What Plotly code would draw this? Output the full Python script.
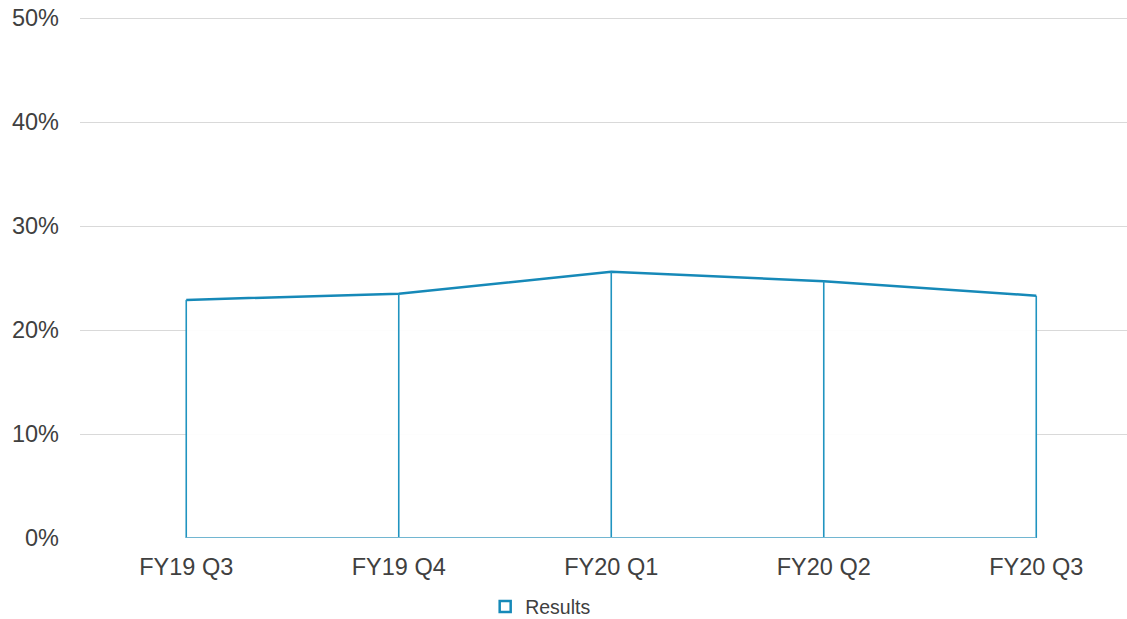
import plotly.graph_objects as go

quarters = ['FY19 Q3', 'FY19 Q4', 'FY20 Q1', 'FY20 Q2', 'FY20 Q3']
results = [0.229, 0.235, 0.256, 0.247, 0.233]
y_ticks = [0, 0.1, 0.2, 0.3, 0.4, 0.5]

blue = '#1689b8'

fig = go.Figure()

# area with white fill, outline on top
fig.add_trace(go.Scatter(
    x=quarters,
    y=results,
    mode='lines',
    name='Results',
    fill='tozeroy',
    fillcolor='rgba(255,255,255,0.93)',
    line=dict(color=blue, width=2.5),
    showlegend=False,
    hoverinfo='skip'
))

# drop lines from each point down to zero
drop_x, drop_y = [], []
for q, v in zip(quarters, results):
    drop_x += [q, q, None]
    drop_y += [0, v, None]

fig.add_trace(go.Scatter(
    x=drop_x,
    y=drop_y,
    mode='lines',
    line=dict(color='#2094c0', width=1.6),
    showlegend=False,
    hoverinfo='skip',
    connectgaps=False
))

# bottom edge of the area
fig.add_trace(go.Scatter(
    x=[quarters[0], quarters[-1]],
    y=[0, 0],
    mode='lines',
    line=dict(color='#72b6d1', width=2),
    showlegend=False,
    hoverinfo='skip'
))

# legend entry only (square outline like the excel one)
fig.add_trace(go.Scatter(
    x=[None],
    y=[None],
    mode='markers',
    name='Results',
    marker=dict(symbol='square-open', size=11, color=blue, line=dict(width=2.5, color=blue))
))

fig.update_layout(
    width=1127,
    height=619,
    plot_bgcolor='white',
    paper_bgcolor='white',
    margin=dict(l=80, r=0, t=16, b=81, autoexpand=False),
    font=dict(family='Liberation Sans, Arial', color='#404040'),
    showlegend=True,
    legend=dict(
        orientation='h',
        x=0.440, xanchor='center',
        y=-0.132, yanchor='middle',
        font=dict(size=19.5, color='#404040'),
        itemwidth=30
    ),
    xaxis=dict(
        type='category',
        range=[-0.5, 4.427],
        showgrid=False,
        zeroline=False,
        showline=False,
        ticks='',
        automargin=False,
        tickfont=dict(size=23.5, color='#404040'),
        ticklabelstandoff=12
    ),
    yaxis=dict(
        range=[0, 0.502],
        tickvals=y_ticks,
        tickformat='.0%',
        showgrid=True,
        gridcolor='#d9d9d9',
        gridwidth=1,
        zeroline=False,
        showline=False,
        ticks='',
        automargin=False,
        ticklabeloverflow='allow',
        tickfont=dict(size=23.5, color='#404040'),
        ticklabelstandoff=20
    )
)

# drop the default page margin so the figure fills the window, no toolbar
fig.write_html('out.html',
               config={'displayModeBar': False},
               post_script="document.body.style.margin='0';")
